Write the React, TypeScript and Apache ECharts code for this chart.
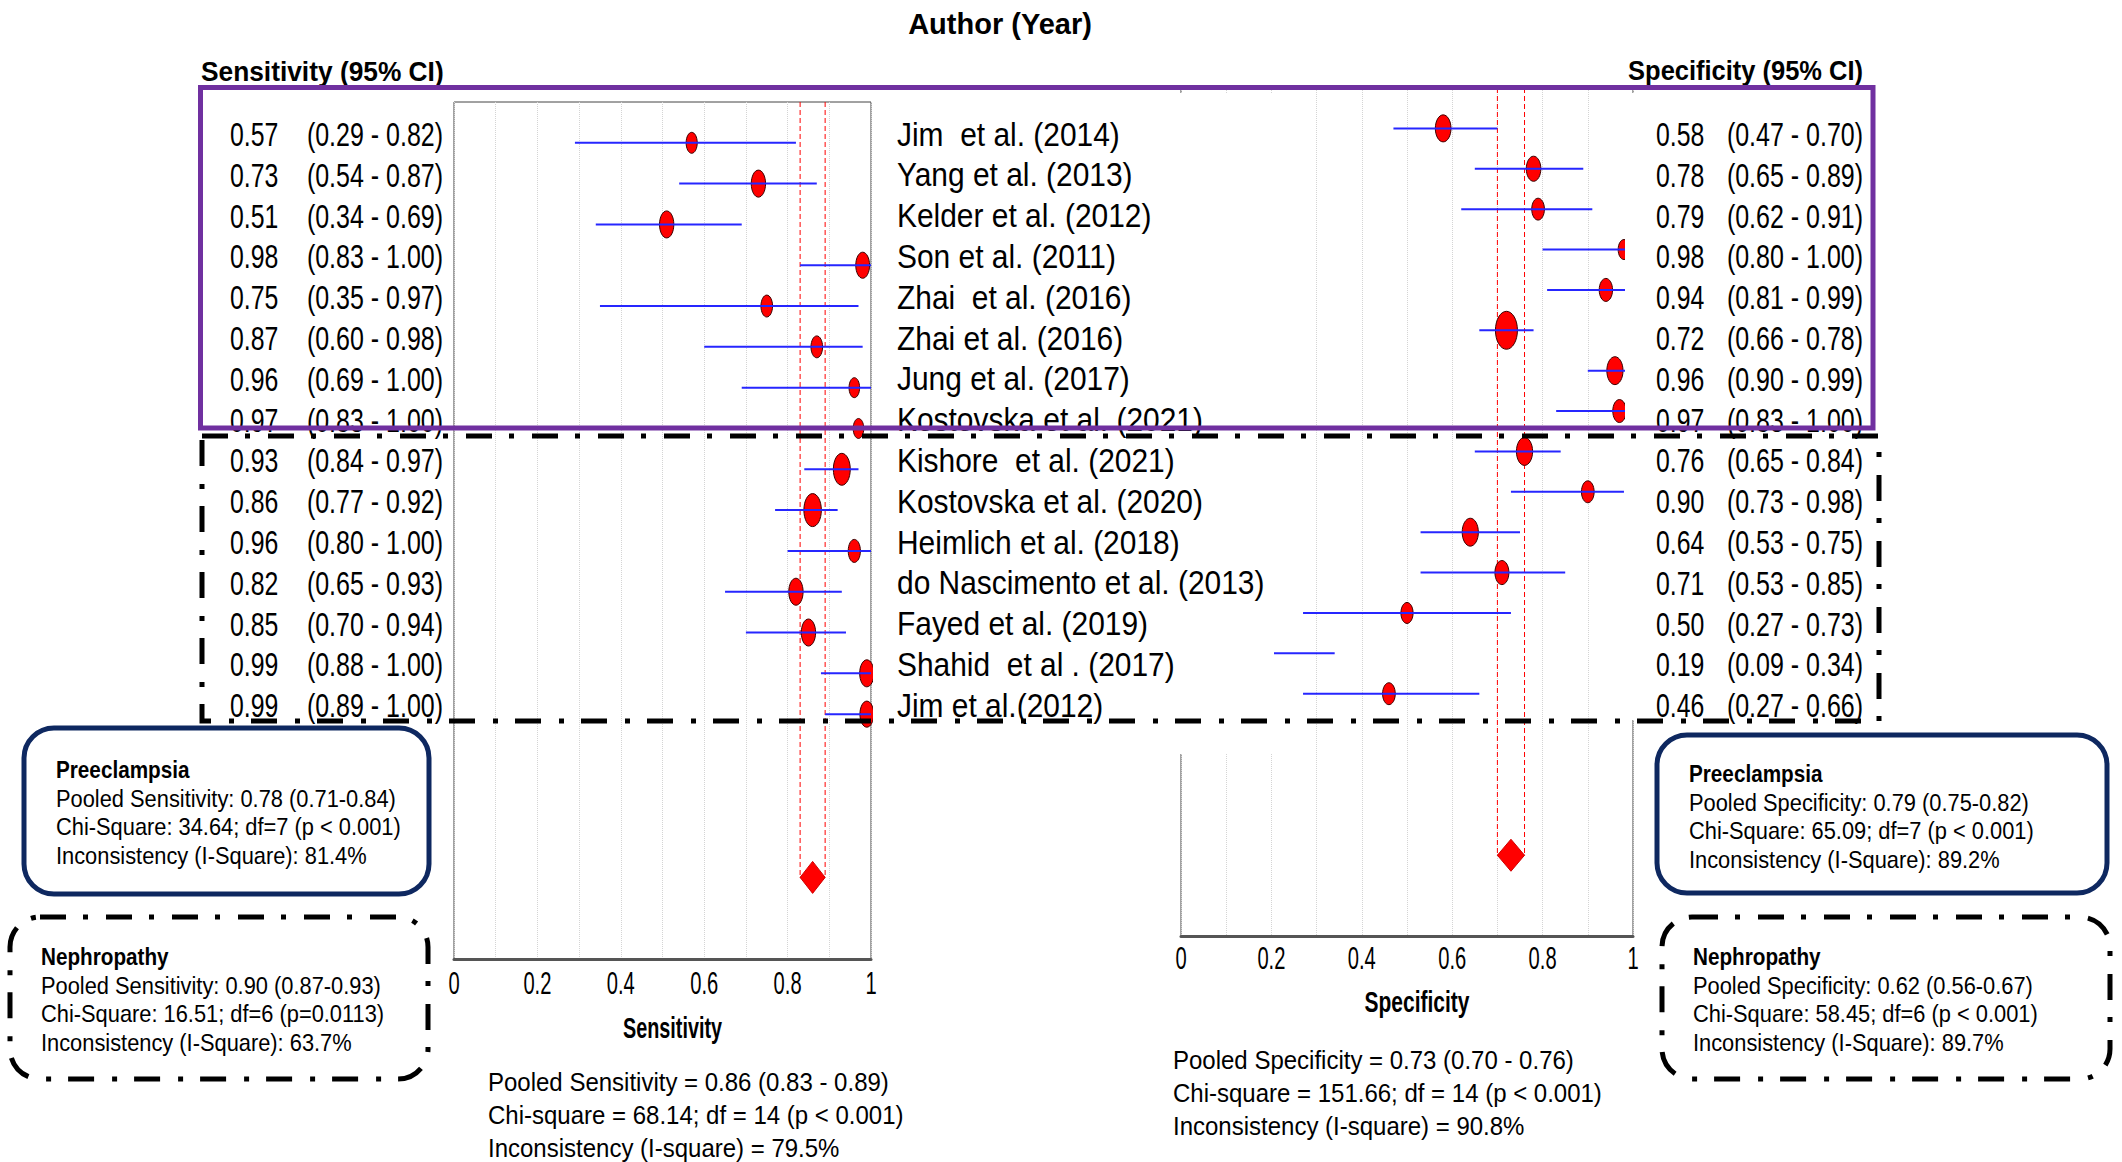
import React, { useEffect, useRef } from 'react';
import * as echarts from 'echarts';

// ---------------- data ----------------
const authors = [
  'Jim  et al. (2014)', 'Yang et al. (2013)', 'Kelder et al. (2012)', 'Son et al. (2011)',
  'Zhai  et al. (2016)', 'Zhai et al. (2016)', 'Jung et al. (2017)', 'Kostovska et al. (2021)',
  'Kishore  et al. (2021)', 'Kostovska et al. (2020)', 'Heimlich et al. (2018)',
  'do Nascimento et al. (2013)', 'Fayed et al. (2019)', 'Shahid  et al . (2017)', 'Jim et al.(2012)',
];
const sensValue = [0.57, 0.73, 0.51, 0.98, 0.75, 0.87, 0.96, 0.97, 0.93, 0.86, 0.96, 0.82, 0.85, 0.99, 0.99];
const sensLow = [0.29, 0.54, 0.34, 0.83, 0.35, 0.60, 0.69, 0.83, 0.84, 0.77, 0.80, 0.65, 0.70, 0.88, 0.89];
const sensHigh = [0.82, 0.87, 0.69, 1.00, 0.97, 0.98, 1.00, 1.00, 0.97, 0.92, 1.00, 0.93, 0.94, 1.00, 1.00];
const sensWeight = [4.4, 7.3, 7.3, 6.8, 4.8, 4.8, 4.0, 4.0, 10.2, 10.9, 5.3, 7.3, 7.3, 7.3, 6.8];

const specValue = [0.58, 0.78, 0.79, 0.98, 0.94, 0.72, 0.96, 0.97, 0.76, 0.90, 0.64, 0.71, 0.50, 0.19, 0.46];
const specLow = [0.47, 0.65, 0.62, 0.80, 0.81, 0.66, 0.90, 0.83, 0.65, 0.73, 0.53, 0.53, 0.27, 0.09, 0.27];
const specHigh = [0.70, 0.89, 0.91, 1.00, 0.99, 0.78, 0.99, 1.00, 0.84, 0.98, 0.75, 0.85, 0.73, 0.34, 0.66];
const specWeight = [7.3, 6.3, 4.8, 4.0, 5.3, 14.4, 7.8, 5.3, 7.8, 4.8, 7.8, 5.8, 4.4, 4.0, 4.8];

const sensPooled = [0.86, 0.83, 0.89]; // estimate, low, high
const specPooled = [0.73, 0.70, 0.76];
const pooledRow = 18;
const tickLabels = ['0', '0.2', '0.4', '0.6', '0.8', '1'];
const axisTitles = ['Sensitivity', 'Specificity'];

const preSensLines = ['Pooled Sensitivity: 0.78 (0.71-0.84)', 'Chi-Square: 34.64; df=7 (p < 0.001)', 'Inconsistency (I-Square): 81.4%'];
const nephSensLines = ['Pooled Sensitivity: 0.90 (0.87-0.93)', 'Chi-Square: 16.51; df=6 (p=0.0113)', 'Inconsistency (I-Square): 63.7%'];
const preSpecLines = ['Pooled Specificity: 0.79 (0.75-0.82)', 'Chi-Square: 65.09; df=7 (p < 0.001)', 'Inconsistency (I-Square): 89.2%'];
const nephSpecLines = ['Pooled Specificity: 0.62 (0.56-0.67)', 'Chi-Square: 58.45; df=6 (p < 0.001)', 'Inconsistency (I-Square): 89.7%'];
const sensSummary = ['Pooled Sensitivity = 0.86 (0.83 - 0.89)', 'Chi-square = 68.14; df = 14 (p < 0.001)', 'Inconsistency (I-square) = 79.5%'];
const specSummary = ['Pooled Specificity = 0.73 (0.70 - 0.76)', 'Chi-square = 151.66; df = 14 (p < 0.001)', 'Inconsistency (I-square) = 90.8%'];

// ---------------- styling helpers ----------------
const FONT = "'Liberation Sans', Arial, sans-serif";
const Y_MIN = -1;
const Y_MAX = 20;
const fmt = (v: number) => v.toFixed(2);

type TOpts = { sx?: number; bold?: boolean; align?: string; z?: number };
const txt = (x: number, y: number, text: string, size: number, o: TOpts = {}) => ({
  type: 'text',
  x,
  y,
  scaleX: o.sx ?? 1,
  z: o.z ?? 20,
  silent: true,
  style: {
    text,
    fill: '#000',
    fontSize: size,
    fontFamily: FONT,
    fontWeight: o.bold ? 'bold' : 'normal',
    textAlign: o.align ?? 'left',
    textVerticalAlign: 'middle',
  },
});

const rowTextY = (i: number) => 134 + i * 40.8;

const studyRender = (ratio: number) => (params: any, api: any) => {
  const v = api.value(0);
  const lo = api.value(1);
  const hi = api.value(2);
  const row = api.value(3);
  const w = api.value(4);
  const c = api.coord([v, row]);
  const a = api.coord([lo, row]);
  const b = api.coord([hi, row]);
  const h = 10 * Math.sqrt(w);
  return {
    type: 'group',
    children: [
      {
        type: 'ellipse',
        shape: { cx: c[0], cy: c[1], rx: (h * ratio) / 2, ry: h / 2 },
        style: { fill: '#ff0000', stroke: '#3a0000', lineWidth: 1 },
      },
      {
        type: 'line',
        shape: { x1: a[0], y1: a[1], x2: b[0], y2: b[1] },
        style: { stroke: '#2626ff', lineWidth: 2 },
      },
    ],
  };
};

const pooledRender = (params: any, api: any) => {
  const p = api.value(0);
  const lo = api.value(1);
  const hi = api.value(2);
  const row = api.value(3);
  const a = api.coord([lo, row]);
  const b = api.coord([hi, row]);
  const c = api.coord([p, row]);
  const aTop = api.coord([lo, Y_MIN]);
  const bTop = api.coord([hi, Y_MIN]);
  const dh = 16;
  const dash = { stroke: '#ff0000', lineWidth: 1, lineDash: [5, 3] };
  return {
    type: 'group',
    children: [
      { type: 'line', shape: { x1: aTop[0], y1: aTop[1], x2: a[0], y2: a[1] }, style: dash },
      { type: 'line', shape: { x1: bTop[0], y1: bTop[1], x2: b[0], y2: b[1] }, style: dash },
      { type: 'line', shape: { x1: a[0], y1: a[1], x2: b[0], y2: b[1] }, style: { stroke: '#ff0000', lineWidth: 1.5 } },
      {
        type: 'polygon',
        shape: { points: [[a[0], a[1]], [c[0], c[1] - dh], [b[0], b[1]], [c[0], c[1] + dh]] },
        style: { fill: '#ff0000', stroke: '#d00000', lineWidth: 1 },
      },
    ],
  };
};

const xAxisFor = (gridIndex: number) => ({
  gridIndex,
  type: 'value',
  min: 0,
  max: 1,
  interval: 0.1,
  axisLine: { show: true, onZero: false, lineStyle: { color: '#555', width: 3 } },
  axisTick: { show: false },
  axisLabel: { show: false },
  splitLine: { show: true, lineStyle: { color: '#d4d4d4', type: 'dotted', width: 1 } },
});

const yAxisFor = (gridIndex: number) => ({
  gridIndex,
  type: 'value',
  min: Y_MIN,
  max: Y_MAX,
  inverse: true,
  show: false,
  splitLine: { show: false },
});

const boxTexts = (x: number, y0: number, title: string, lines: string[]) => [
  txt(x, y0, title, 23, { bold: true, sx: 0.9 }),
  ...lines.map((l, i) => txt(x, y0 + 28.5 * (i + 1), l, 24, { sx: 0.91 })),
];

export default function App() {
  const ref = useRef<HTMLDivElement>(null);
  useEffect(() => {
    const chart = echarts.init(ref.current!, null, { renderer: 'svg' });

    const sensData = sensValue.map((v, i) => [v, sensLow[i], sensHigh[i], i, sensWeight[i]]);
    const specData = specValue.map((v, i) => [v, specLow[i], specHigh[i], i, specWeight[i]]);

    chart.setOption({
      animation: false,
      backgroundColor: '#ffffff',
      grid: [
        { left: 454, top: 102, width: 417, height: 857, show: true, borderColor: '#444', borderWidth: 1, backgroundColor: 'transparent' },
        { left: 1181, top: 88, width: 452, height: 848, show: true, borderColor: '#444', borderWidth: 1, backgroundColor: 'transparent' },
      ],
      xAxis: [xAxisFor(0), xAxisFor(1)],
      yAxis: [yAxisFor(0), yAxisFor(1)],
      series: [
        {
          type: 'custom', name: 'Pooled sensitivity', xAxisIndex: 0, yAxisIndex: 0,
          renderItem: pooledRender, encode: { x: [0, 1, 2], y: 3 },
          data: [[sensPooled[0], sensPooled[1], sensPooled[2], pooledRow]],
        },
        {
          type: 'custom', name: 'Sensitivity', xAxisIndex: 0, yAxisIndex: 0,
          renderItem: studyRender(0.53), encode: { x: [0, 1, 2], y: 3 },
          data: sensData,
        },
        {
          type: 'custom', name: 'Pooled specificity', xAxisIndex: 1, yAxisIndex: 1,
          renderItem: pooledRender, encode: { x: [0, 1, 2], y: 3 },
          data: [[specPooled[0], specPooled[1], specPooled[2], pooledRow]],
        },
        {
          type: 'custom', name: 'Specificity', xAxisIndex: 1, yAxisIndex: 1,
          renderItem: studyRender(0.58), encode: { x: [0, 1, 2], y: 3 },
          data: specData,
        },
      ],
    });

    const graphic: any[] = [];
    // cover panels behind the text columns
    graphic.push({ type: 'rect', z: 10, silent: true, shape: { x: 873, y: 93, width: 401, height: 661 }, style: { fill: '#fff' } });
    graphic.push({ type: 'rect', z: 10, silent: true, shape: { x: 1625, y: 93, width: 255, height: 627 }, style: { fill: '#fff' } });

    // axis tick labels and titles, placed through the axes' own scales
    const labelOffset = [24, 22];
    const titleOffset = [68, 66];
    const titleScale = [0.66, 0.7];
    [0, 1].forEach((g) => {
      tickLabels.forEach((lab) => {
        const p = chart.convertToPixel({ gridIndex: g } as any, [Number(lab), Y_MAX]) as number[];
        graphic.push(txt(p[0], p[1] + labelOffset[g], lab, 32, { sx: 0.63, align: 'center' }));
      });
      const l = chart.convertToPixel({ gridIndex: g } as any, [0, Y_MAX]) as number[];
      const r = chart.convertToPixel({ gridIndex: g } as any, [1, Y_MAX]) as number[];
      graphic.push(txt((l[0] + r[0]) / 2 + 10, l[1] + titleOffset[g], axisTitles[g], 30, { bold: true, sx: titleScale[g], align: 'center' }));
    });

    // headers
    graphic.push(txt(1000, 24, 'Author (Year)', 29, { bold: true, align: 'center' }));
    graphic.push(txt(201, 71, 'Sensitivity (95% CI)', 28, { bold: true, sx: 0.94 }));
    graphic.push(txt(1863, 71, 'Specificity (95% CI)', 28, { bold: true, sx: 0.91, align: 'right' }));

    // row texts
    authors.forEach((a, i) => {
      const y = rowTextY(i);
      graphic.push(txt(230, y, fmt(sensValue[i]), 34, { sx: 0.73 }));
      graphic.push(txt(443, y, `(${fmt(sensLow[i])} - ${fmt(sensHigh[i])})`, 34, { sx: 0.735, align: 'right' }));
      graphic.push(txt(897, y, a, 34, { sx: 0.88 }));
      graphic.push(txt(1656, y, fmt(specValue[i]), 34, { sx: 0.73 }));
      graphic.push(txt(1863, y, `(${fmt(specLow[i])} - ${fmt(specHigh[i])})`, 34, { sx: 0.735, align: 'right' }));
    });

    // info boxes
    graphic.push(...boxTexts(56, 770, 'Preeclampsia', preSensLines));
    graphic.push(...boxTexts(41, 957, 'Nephropathy', nephSensLines));
    graphic.push(...boxTexts(1689, 774, 'Preeclampsia', preSpecLines));
    graphic.push(...boxTexts(1693, 957, 'Nephropathy', nephSpecLines));

    sensSummary.forEach((l, i) => graphic.push(txt(488, 1082 + 33 * i, l, 25, { sx: 0.96 })));
    specSummary.forEach((l, i) => graphic.push(txt(1173, 1060 + 33 * i, l, 25, { sx: 0.96 })));

    const navy = { fill: 'none', stroke: '#0e2860', lineWidth: 5 };
    const dashDot = { fill: 'none', stroke: '#000', lineWidth: 5, lineDash: [26, 17, 5, 18] };
    graphic.push({ type: 'rect', z: 30, silent: true, shape: { x: 24, y: 728, width: 405, height: 166, r: 30 }, style: navy });
    graphic.push({ type: 'rect', z: 30, silent: true, shape: { x: 1657, y: 735, width: 450, height: 158, r: 30 }, style: navy });
    graphic.push({ type: 'rect', z: 30, silent: true, shape: { x: 10, y: 917, width: 418, height: 162, r: 30 }, style: dashDot });
    graphic.push({ type: 'rect', z: 30, silent: true, shape: { x: 1662, y: 917, width: 448, height: 162, r: 30 }, style: dashDot });

    // group frames
    graphic.push({ type: 'rect', z: 31, silent: true, shape: { x: 202, y: 436, width: 1677, height: 285 }, style: dashDot });
    graphic.push({
      type: 'rect', z: 32, silent: true,
      shape: { x: 200.5, y: 87.5, width: 1672.5, height: 340.5 },
      style: { fill: 'none', stroke: '#7030a0', lineWidth: 5 },
    });

    chart.setOption({ graphic });
    return () => chart.dispose();
  }, []);
  return (
    <div
      ref={ref}
      style={{ position: 'fixed', left: 0, top: 0, width: 2122, height: 1162, background: '#fff' }}
    />
  );
}
